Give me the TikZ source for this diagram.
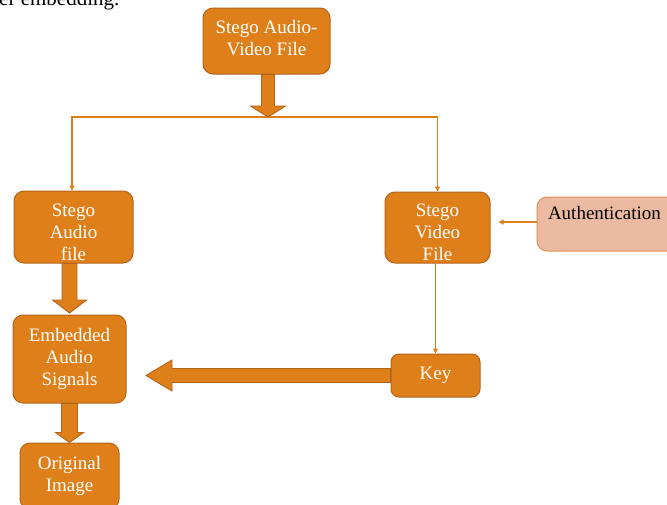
\documentclass[tikz,border=0pt]{standalone}
\usepackage{fontspec}
\setmainfont{Liberation Serif}
\usetikzlibrary{calc,arrows.meta}
\definecolor{orF}{RGB}{223,127,26}
\definecolor{orD}{RGB}{178,100,26}
\definecolor{auF}{RGB}{236,186,160}
\definecolor{auD}{RGB}{222,142,84}
\tikzset{
  box/.style={draw=orD, fill=orF, line width=1pt, rounded corners=10pt,
    text=white, align=center, inner sep=2pt,
    font=\fontsize{19}{22}\selectfont},
  boxtxt/.style={text=white, align=center, inner sep=0pt,
    font=\fontsize{19}{22}\selectfont},
  authbox/.style={draw=auD, fill=auF, line width=1pt, rounded corners=10pt,
    text=black, align=left, inner sep=0pt,
    font=\fontsize{19}{22}\selectfont},
  thinarrow/.style={draw=orF, line width=1.2pt, -{Triangle[width=5pt,length=5pt]}},
  barrow/.style={draw=orD, fill=orF, line width=0.9pt, line join=miter},
}
\newcommand{\vblock}[5]{%
  \draw[barrow] let \p1=(#1), \p2=(#2) in
    (\x1-#3,\y1) -- (\x1-#3,\y2+#5) -- (\x1-#4,\y2+#5) -- (\x1,\y2)
    -- (\x1+#4,\y2+#5) -- (\x1+#3,\y2+#5) -- (\x1+#3,\y1) -- cycle;}
\begin{document}
\begin{tikzpicture}[x=1pt,y=-1pt]
\useasboundingbox (0,0) rectangle (667,504);
\clip (0,0) rectangle (667,504);
\node[anchor=base west, inner sep=0pt, font=\fontsize{21}{24}\selectfont] (cap) at (-1,5) {er embedding.};
% nodes
\node[box, minimum width=127pt, minimum height=66pt,
  label={[boxtxt, yshift=2.5pt]center:Stego Audio-\\Video File}] (tb) at (266.5,41) {};
\node[box, minimum width=119pt, minimum height=72pt,
  label={[boxtxt, yshift=-5pt]center:Stego\\Audio\\file}] (sa) at (73.5,227) {};
\node[box, minimum width=105pt, minimum height=71pt,
  label={[boxtxt, yshift=-5pt]center:Stego\\Video\\File}] (sv) at (437.5,227.5) {};
\node[authbox, minimum width=160pt, minimum height=54pt, text width=138pt] (auth) at (617,224) {Authentication\\\mbox{}};
\node[box, minimum width=113pt, minimum height=88pt] (emb) at (69.5,359) {Embedded\\Audio\\Signals};
\node[box, rounded corners=8pt, minimum width=89pt, minimum height=43pt] (key) at (435.5,375.5) {Key};
\node[box, minimum width=99pt, minimum height=66pt] (orig) at (69.5,476) {Original\\Image};
\coordinate (split) at (268,117);
% connectors
\draw[thinarrow] (split) -| ([xshift=-1.5pt]sa.north);
\draw[thinarrow] (split) -| (sv.north);
\vblock{tb.south -| split}{split}{6.5pt}{17.5pt}{11pt}
\draw[thinarrow, shorten >=8pt] (auth.west |- 0,222) -- (sv.east |- 0,222);
\vblock{sa.south -| emb.north}{[yshift=1.5pt]emb.north}{7.5pt}{17pt}{13pt}
\vblock{emb.south}{orig.north}{8pt}{14pt}{10pt}
\draw[thinarrow] (sv.south -| key.north) -- (key.north);
\draw[barrow] let \p1=(key.west), \p2=(146,376) in
  (\x1,\y1+7pt) -- (\x2+26pt,\y1+7pt) -- (\x2+26pt,\y1+15.5pt) -- (\x2,\y1)
  -- (\x2+26pt,\y1-15.5pt) -- (\x2+26pt,\y1-7pt) -- (\x1,\y1-7pt) -- cycle;
\end{tikzpicture}
\end{document}
